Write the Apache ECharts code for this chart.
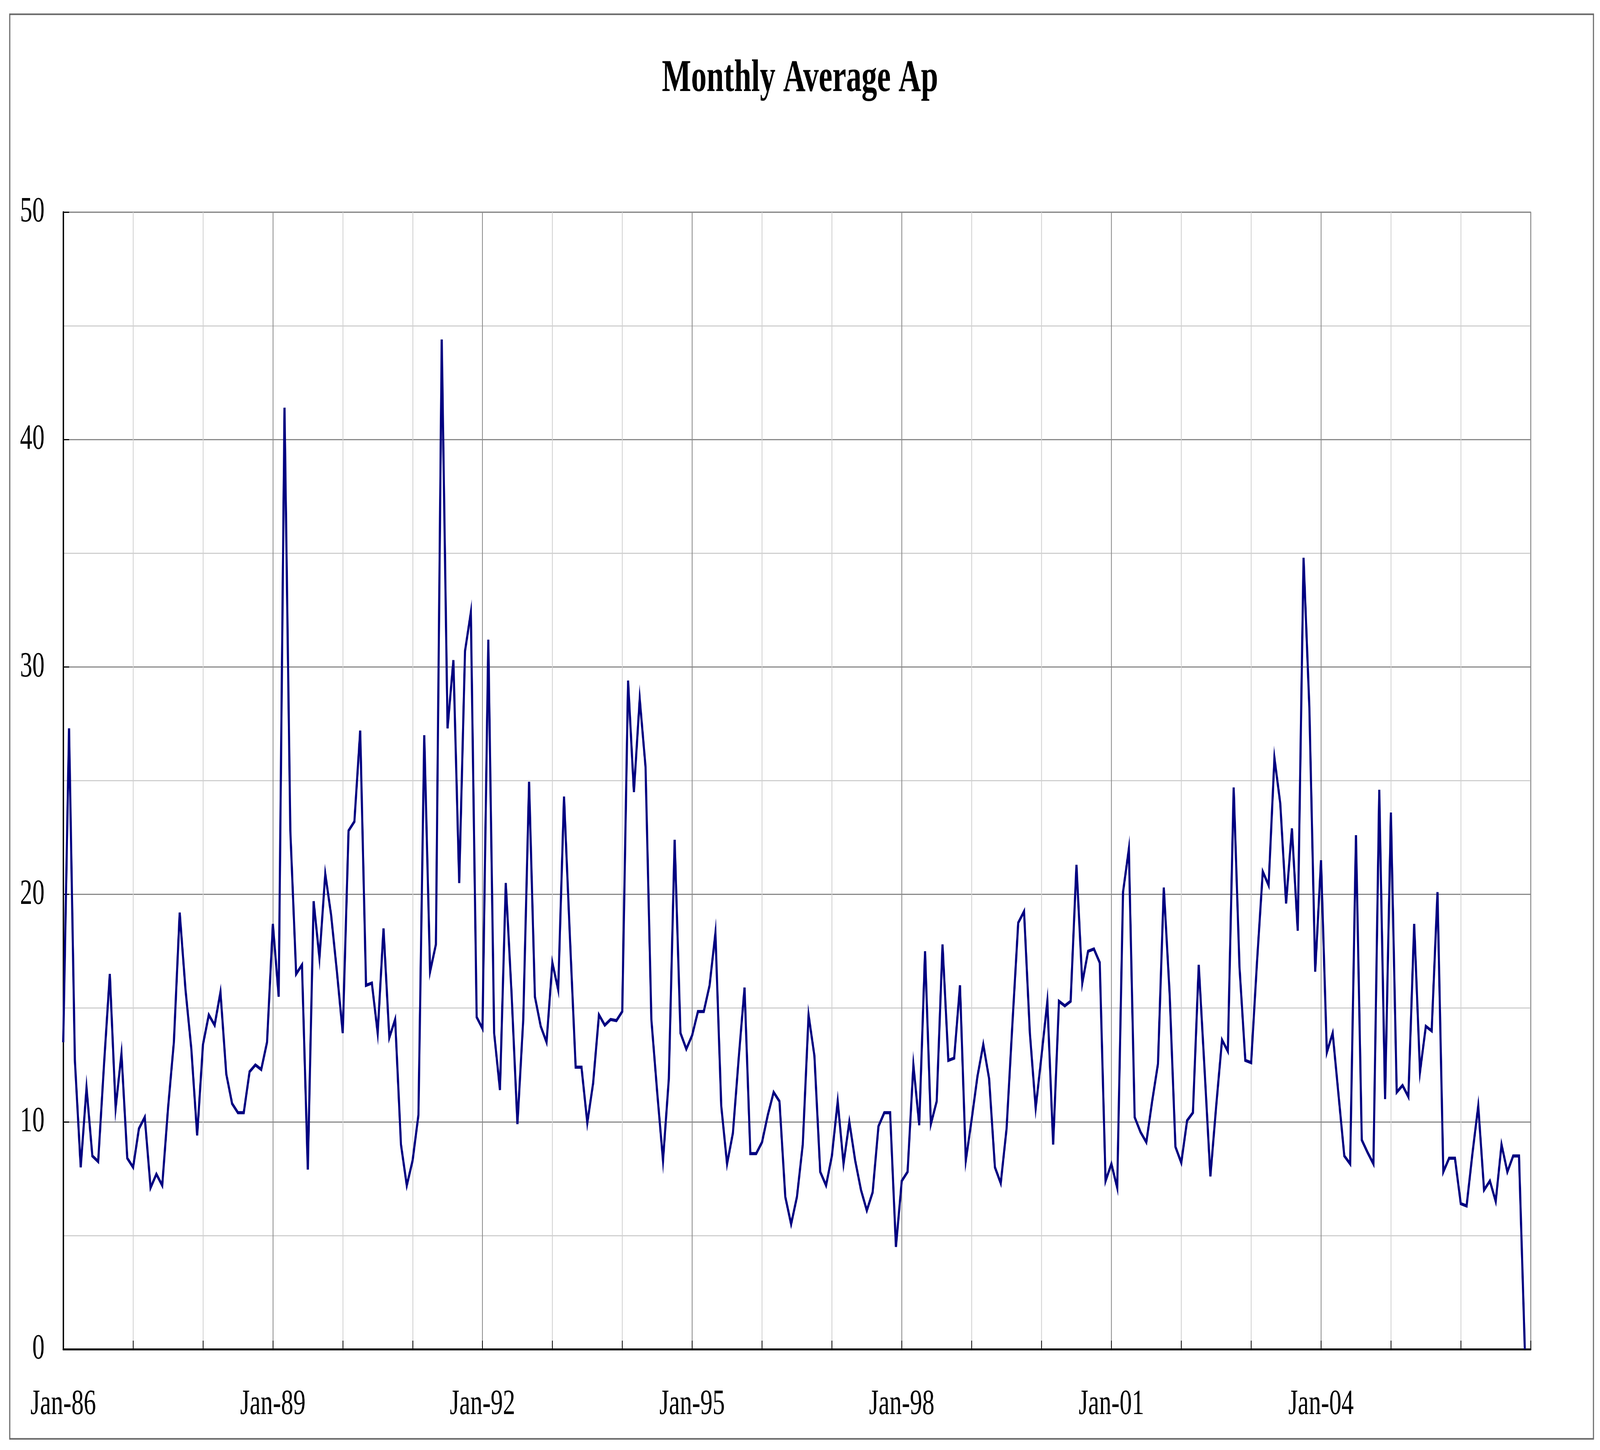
<!DOCTYPE html>
<html>
<head>
<meta charset="utf-8">
<script src="https://cdn.jsdelivr.net/npm/echarts@6/dist/echarts.min.js"></script>
<style>
html,body{margin:0;padding:0;background:#fff;overflow:hidden;}
#chart{width:5998px;height:3712px;transform-origin:0 0;}
</style>
</head>
<body>
<div id="chart"></div>
<script>
// Monthly average Ap, Jan 1986 – Dec 2006
const ap1986 = [13.5, 27.3, 12.7, 8.0, 11.5, 8.5, 8.25, 12.5, 16.5, 10.6, 13.0, 8.4];
const ap1987 = [8.0, 9.7, 10.2, 7.1, 7.7, 7.2, 10.6, 13.5, 19.2, 15.8, 13.2, 9.4];
const ap1988 = [13.4, 14.7, 14.25, 15.7, 12.1, 10.8, 10.4, 10.4, 12.2, 12.5, 12.3, 13.5];
const ap1989 = [18.7, 15.5, 41.4, 22.8, 16.5, 16.9, 7.9, 19.7, 17.2, 20.9, 19.1, 16.6];
const ap1990 = [13.9, 22.8, 23.2, 27.2, 16.0, 16.1, 13.9, 18.5, 13.7, 14.5, 9.0, 7.2];
const ap1991 = [8.3, 10.3, 27.0, 16.6, 17.8, 44.4, 27.3, 30.3, 20.5, 30.7, 32.4, 14.6];
const ap1992 = [14.1, 31.2, 13.9, 11.4, 20.5, 15.6, 9.9, 14.5, 24.95, 15.5, 14.2, 13.5];
const ap1993 = [17.0, 15.8, 24.3, 18.2, 12.4, 12.4, 9.95, 11.7, 14.7, 14.25, 14.5, 14.45];
const ap1994 = [14.85, 29.4, 24.5, 28.6, 25.6, 14.5, 11.3, 8.3, 11.9, 22.4, 13.9, 13.2];
const ap1995 = [13.8, 14.85, 14.85, 16.0, 18.3, 10.7, 8.15, 9.5, 12.8, 15.9, 8.6, 8.6];
const ap1996 = [9.1, 10.3, 11.3, 10.9, 6.7, 5.5, 6.7, 9.0, 14.7, 12.9, 7.8, 7.2];
const ap1997 = [8.5, 10.9, 8.15, 10.0, 8.3, 7.0, 6.1, 6.9, 9.8, 10.4, 10.4, 4.5];
const ap1998 = [7.4, 7.8, 12.5, 9.85, 17.5, 9.9, 10.9, 17.8, 12.7, 12.8, 16.0, 8.3];
const ap1999 = [10.1, 12.0, 13.4, 11.9, 8.0, 7.3, 9.7, 14.3, 18.75, 19.25, 13.9, 10.6];
const ap2000 = [12.9, 15.3, 9.0, 15.3, 15.1, 15.3, 21.3, 16.1, 17.5, 17.6, 17.0, 7.4];
const ap2001 = [8.15, 7.1, 20.1, 22.0, 10.2, 9.55, 9.1, 10.9, 12.55, 20.3, 15.65, 8.9];
const ap2002 = [8.2, 10.05, 10.4, 16.9, 12.3, 7.6, 10.7, 13.6, 13.1, 24.7, 16.8, 12.7];
const ap2003 = [12.6, 17.0, 21.0, 20.4, 26.0, 24.0, 19.6, 22.9, 18.4, 34.8, 28.2, 16.6];
const ap2004 = [21.5, 13.05, 13.9, 11.2, 8.5, 8.15, 22.6, 9.2, 8.65, 8.15, 24.6, 11.0];
const ap2005 = [23.6, 11.3, 11.6, 11.1, 18.7, 12.2, 14.2, 14.0, 20.1, 7.8, 8.4, 8.4];
const ap2006 = [6.4, 6.3, 8.6, 10.7, 7.0, 7.4, 6.5, 9.0, 7.8, 8.5, 8.5, 0];

const xTickLabels = ['Jan-86', 'Jan-89', 'Jan-92', 'Jan-95', 'Jan-98', 'Jan-01', 'Jan-04'];
const yTicks = [0, 10, 20, 30, 40, 50];

const apValues = [].concat(ap1986, ap1987, ap1988, ap1989, ap1990, ap1991, ap1992,
  ap1993, ap1994, ap1995, ap1996, ap1997, ap1998, ap1999, ap2000, ap2001, ap2002,
  ap2003, ap2004, ap2005, ap2006);
const seriesData = apValues.map((v, i) => [i, v]);
const totalMonths = 252;

// The browser viewport may be narrower than the design size: scale the whole
// 5998x3712 drawing into the viewport so the picture keeps the reference layout.
const el = document.getElementById('chart');
const sx = window.innerWidth / 5998, sy = window.innerHeight / 3712;
el.style.transform = 'scale(' + sx + ',' + sy + ')';

const FONT = "'Liberation Serif', 'Times New Roman', serif";
const chart = echarts.init(el);
chart.setOption({
  backgroundColor: '#ffffff',
  animation: false,
  title: {
    text: 'Monthly Average Ap',
    left: 'center',
    top: 140,
    textStyle: { fontFamily: FONT, fontWeight: 'bold', fontSize: 116, color: '#000' }
  },
  graphic: [{
    type: 'rect',
    left: 34, top: 34,
    shape: { width: 5937, height: 3647 },
    style: { fill: 'none', stroke: '#666', lineWidth: 4 },
    silent: true
  }],
  grid: {
    left: 237, right: 260, top: 543, bottom: 258,
    show: true, borderColor: '#9a9a9a', borderWidth: 3, backgroundColor: 'transparent'
  },
  xAxis: {
    type: 'value',
    min: 0, max: totalMonths, interval: 36,
    axisLine: { show: true, onZero: false, lineStyle: { color: '#000', width: 5 } },
    axisTick: { show: true, inside: true, length: 22, lineStyle: { color: '#000', width: 3 } },
    minorTick: { show: true, splitNumber: 3, length: 22, lineStyle: { color: '#000', width: 3 } },
    splitLine: { show: true, lineStyle: { color: '#8a8a8a', width: 3 } },
    minorSplitLine: { show: true, lineStyle: { color: '#d0d0d0', width: 3 } },
    axisLabel: {
      fontFamily: FONT, fontSize: 92, color: '#000', margin: 96,
      showMaxLabel: false,
      formatter: v => xTickLabels[Math.round(v / 36)] || ''
    }
  },
  yAxis: {
    type: 'value',
    min: yTicks[0], max: yTicks[yTicks.length - 1], interval: 10,
    axisLine: { show: true, lineStyle: { color: '#000', width: 5 } },
    axisTick: { show: true, inside: true, length: 22, lineStyle: { color: '#000', width: 3 } },
    minorTick: { show: false, splitNumber: 2 },
    splitLine: { show: true, lineStyle: { color: '#8a8a8a', width: 3 } },
    minorSplitLine: { show: true, lineStyle: { color: '#d0d0d0', width: 3 } },
    axisLabel: { fontFamily: FONT, fontSize: 92, color: '#000', margin: 70 }
  },
  series: [{
    name: 'Monthly Average Ap',
    type: 'line',
    data: seriesData,
    showSymbol: false,
    symbol: 'none',
    lineStyle: { color: '#000080', width: 8, join: 'miter' },
    itemStyle: { color: '#000080' },
    z: 5
  }]
});
</script>
</body>
</html>
